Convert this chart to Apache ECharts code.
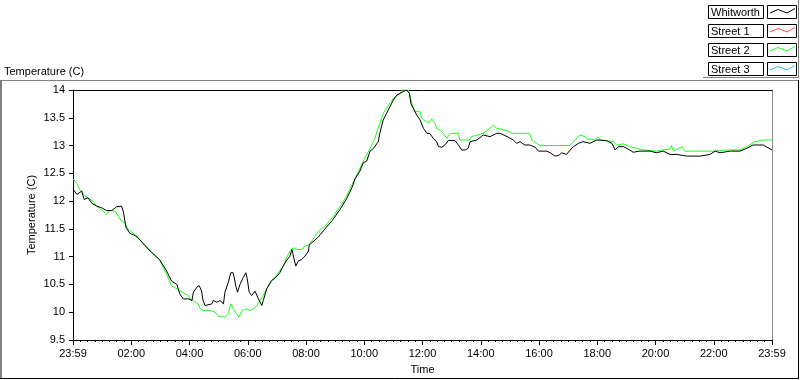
<!DOCTYPE html>
<html><head><meta charset="utf-8">
<script src="https://cdn.jsdelivr.net/npm/echarts@6/dist/echarts.min.js"></script>
<style>html,body{margin:0;padding:0;background:#fff}#c{width:800px;height:380px}</style>
</head><body><div id="c"></div>
<script>
// ---- data ----
const seriesNames = ['Whitworth', 'Street 1', 'Street 2', 'Street 3'];
const seriesColors = ['#000000', '#ff4a4a', '#1aff1a', '#3cb8ff'];
const timeTickLabels = ['23:59','02:00','04:00','06:00','08:00','10:00','12:00','14:00','16:00','18:00','20:00','22:00','23:59'];
const tempTickLabels = ['9.5','10','10.5','11','11.5','12','12.5','13','13.5','14'];
// [minutes since 23:59, temperature °C]
const whitworth = [[0,12.22],[8,12.12],[18,12.18],[23,12.03],[31,12.06],[39,11.96],[49,11.91],[59,11.88],[69,11.83],[80,11.83],[90,11.9],[100,11.91],[104,11.8],[109,11.53],[117,11.42],[128,11.38],[138,11.3],[148,11.2],[159,11.1],[169,11.02],[179,10.94],[193,10.74],[203,10.56],[214,10.5],[220,10.33],[227,10.24],[238,10.24],[245,10.21],[248,10.36],[255,10.45],[260,10.48],[265,10.38],[268,10.21],[272,10.12],[275,10.15],[286,10.15],[289,10.21],[296,10.18],[303,10.21],[310,10.15],[313,10.36],[320,10.54],[325,10.71],[330,10.71],[336,10.45],[339,10.36],[344,10.5],[351,10.63],[356,10.71],[359,10.6],[363,10.36],[368,10.3],[375,10.38],[382,10.24],[389,10.12],[392,10.21],[399,10.42],[409,10.57],[416,10.61],[426,10.71],[433,10.83],[439,10.92],[447,11.01],[451,11.13],[454,11.01],[459,10.83],[464,10.92],[471,10.95],[478,11.01],[485,11.1],[487,11.22],[492,11.25],[505,11.35],[519,11.5],[534,11.65],[550,11.85],[564,12.05],[575,12.25],[581,12.4],[591,12.54],[598,12.69],[605,12.72],[612,12.9],[619,12.95],[629,13.07],[632,13.22],[639,13.46],[646,13.58],[653,13.7],[660,13.82],[667,13.91],[674,13.94],[680,13.97],[687,14.0],[693,13.94],[696,13.76],[701,13.67],[708,13.55],[715,13.46],[722,13.31],[729,13.22],[735,13.22],[742,13.13],[749,13.07],[753,12.98],[760,12.97],[766,13.01],[773,13.09],[787,13.09],[794,13.01],[801,12.92],[808,12.92],[814,12.95],[818,13.07],[832,13.1],[845,13.19],[859,13.16],[873,13.22],[880,13.22],[897,13.15],[907,13.1],[914,13.04],[921,13.07],[931,13.01],[941,13.01],[952,12.97],[959,12.9],[976,12.9],[983,12.87],[993,12.81],[1000,12.82],[1007,12.87],[1017,12.84],[1024,12.92],[1031,12.98],[1041,13.04],[1051,13.07],[1065,13.04],[1079,13.1],[1099,13.09],[1110,13.04],[1117,12.92],[1123,12.98],[1134,12.98],[1147,12.92],[1154,12.88],[1168,12.9],[1189,12.9],[1202,12.87],[1216,12.9],[1230,12.84],[1244,12.84],[1264,12.81],[1292,12.81],[1312,12.84],[1323,12.9],[1333,12.87],[1354,12.9],[1374,12.9],[1388,12.95],[1401,13.01],[1422,13.01],[1440,12.92]];
const street1 = [];
const street2 = [[0,12.40],[8,12.32],[14,12.21],[25,12.09],[41,12.0],[49,11.91],[62,11.82],[69,11.76],[76,11.83],[87,11.82],[93,11.73],[100,11.64],[107,11.61],[113,11.5],[124,11.42],[134,11.35],[144,11.25],[155,11.15],[165,11.05],[175,10.98],[179,10.93],[193,10.68],[203,10.48],[220,10.39],[231,10.33],[238,10.3],[241,10.24],[248,10.21],[258,10.15],[262,10.06],[268,10.03],[282,10.03],[293,10.0],[299,9.93],[313,9.91],[320,9.97],[325,10.15],[330,10.06],[337,9.97],[342,9.91],[348,10.03],[358,10.06],[365,10.03],[371,10.06],[378,10.11],[385,10.21],[392,10.3],[399,10.42],[413,10.61],[423,10.71],[433,10.83],[440,10.98],[447,11.1],[454,11.16],[461,11.13],[471,11.13],[478,11.19],[487,11.22],[492,11.28],[505,11.45],[519,11.55],[534,11.7],[550,11.9],[564,12.1],[575,12.3],[581,12.4],[598,12.72],[612,12.95],[622,13.13],[632,13.4],[639,13.58],[650,13.73],[660,13.85],[674,13.94],[677,14.0],[691,14.0],[694,13.91],[698,13.76],[704,13.61],[715,13.61],[718,13.49],[729,13.42],[735,13.42],[739,13.48],[746,13.4],[749,13.31],[756,13.28],[763,13.22],[770,13.13],[777,13.22],[794,13.22],[797,13.1],[818,13.1],[821,13.16],[845,13.22],[859,13.31],[866,13.37],[873,13.31],[880,13.30],[894,13.27],[904,13.22],[941,13.22],[945,13.1],[955,13.04],[962,13.0],[1024,13.0],[1031,13.07],[1044,13.19],[1055,13.16],[1058,13.12],[1075,13.1],[1082,13.16],[1086,13.1],[1113,13.07],[1120,13.01],[1134,13.03],[1147,12.98],[1161,12.95],[1175,12.92],[1202,12.9],[1230,12.94],[1233,13.0],[1237,12.9],[1254,12.98],[1261,12.9],[1292,12.9],[1319,12.9],[1347,12.92],[1374,12.92],[1388,12.98],[1405,13.07],[1422,13.1],[1440,13.1]];
const street3 = [];
const seriesData = [whitworth, street1, street2, street3];

// ---- chart ----
const FONT = 'Liberation Sans';
const chart = echarts.init(document.getElementById('c'), null, {renderer: 'canvas'});

const graphics = [
  // outer panel frame
  {type: 'line', shape: {x1: 0, y1: 80.5, x2: 798, y2: 80.5}, style: {stroke: '#808080', lineWidth: 1}, silent: true},
  {type: 'line', shape: {x1: 1, y1: 80, x2: 1, y2: 379}, style: {stroke: '#808080', lineWidth: 2}, silent: true},
  {type: 'line', shape: {x1: 0, y1: 378.5, x2: 799, y2: 378.5}, style: {stroke: '#000000', lineWidth: 1}, silent: true},
  {type: 'line', shape: {x1: 798.5, y1: 80, x2: 798.5, y2: 379}, style: {stroke: '#000000', lineWidth: 1}, silent: true},
  // legend shadow
  {type: 'line', shape: {x1: 798.5, y1: 0, x2: 798.5, y2: 78}, style: {stroke: '#808080', lineWidth: 1}, silent: true},
  {type: 'line', shape: {x1: 703, y1: 77.5, x2: 799, y2: 77.5}, style: {stroke: '#808080', lineWidth: 1}, silent: true},
  // title above plot
  {type: 'text', left: 4, top: 66, style: {text: 'Temperature (C)', font: '11px "' + FONT + '"', fill: '#000'}, silent: true}
];
seriesNames.forEach((name, i) => {
  const t = 5 + i * 19;
  graphics.push(
    {type: 'rect', shape: {x: 708.5, y: t + 0.5, width: 55, height: 13}, style: {fill: '#fff', stroke: '#000', lineWidth: 1}, silent: true},
    {type: 'text', x: 711, y: t + 7.5, style: {text: name, font: '11px "' + FONT + '"', fill: '#000', verticalAlign: 'middle', align: 'left'}, silent: true},
    {type: 'rect', shape: {x: 767.5, y: t + 0.5, width: 29, height: 13}, style: {fill: '#fff', stroke: '#000', lineWidth: 1}, silent: true},
    {type: 'polyline', shape: {points: [[770, t + 8], [778, t + 4.5], [787, t + 8], [795, t + 3.5]]}, style: {stroke: seriesColors[i], lineWidth: 1, fill: null}, silent: true}
  );
});

const labelStyle = {color: '#000', fontFamily: FONT, fontSize: 11};
const option = {
  animation: false,
  backgroundColor: '#ffffff',
  grid: {left: 73, right: 28, top: 90, bottom: 39, containLabel: false},
  xAxis: [{
    type: 'value', min: 0, max: 1440, interval: 120,
    name: 'Time', nameLocation: 'middle', nameGap: 24, nameMoveOverlap: false,
    nameTextStyle: labelStyle,
    axisLine: {show: true, onZero: false, lineStyle: {color: '#000', width: 1}},
    axisTick: {show: true, length: 5, lineStyle: {color: '#000'}},
    minorTick: {show: true, splitNumber: 8, length: 2, lineStyle: {color: '#000'}},
    splitLine: {show: false}, minorSplitLine: {show: false},
    axisLabel: Object.assign({margin: 8, formatter: v => timeTickLabels[Math.round(v / 120)]}, labelStyle)
  }, {
    type: 'value', min: 0, max: 1440, position: 'top',
    axisLine: {show: true, onZero: false, lineStyle: {color: '#000', width: 1}},
    axisTick: {show: false}, axisLabel: {show: false}, splitLine: {show: false}
  }],
  yAxis: [{
    type: 'value', min: 9.5, max: 14, interval: 0.5,
    name: 'Temperature (C)', nameLocation: 'middle', nameGap: 36, nameRotate: 90, nameMoveOverlap: false,
    nameTextStyle: labelStyle,
    axisLine: {show: true, onZero: false, lineStyle: {color: '#000', width: 1}},
    axisTick: {show: true, length: 4, lineStyle: {color: '#000'}},
    splitLine: {show: false},
    axisLabel: Object.assign({margin: 8, formatter: v => tempTickLabels[Math.round((v - 9.5) / 0.5)]}, labelStyle)
  }, {
    type: 'value', min: 9.5, max: 14, position: 'right',
    axisLine: {show: true, onZero: false, lineStyle: {color: '#8c8c8c', width: 1}},
    axisTick: {show: false}, axisLabel: {show: false}, splitLine: {show: false}
  }],
  series: seriesNames.map((name, i) => ({
    name: name, type: 'line', data: seriesData[i],
    showSymbol: false, symbol: 'none', smooth: false,
    z: i === 0 ? 5 : 3,
    lineStyle: {color: seriesColors[i], width: 1},
    itemStyle: {color: seriesColors[i]}
  })),
  graphic: graphics
};
chart.setOption(option);
</script>
</body></html>
